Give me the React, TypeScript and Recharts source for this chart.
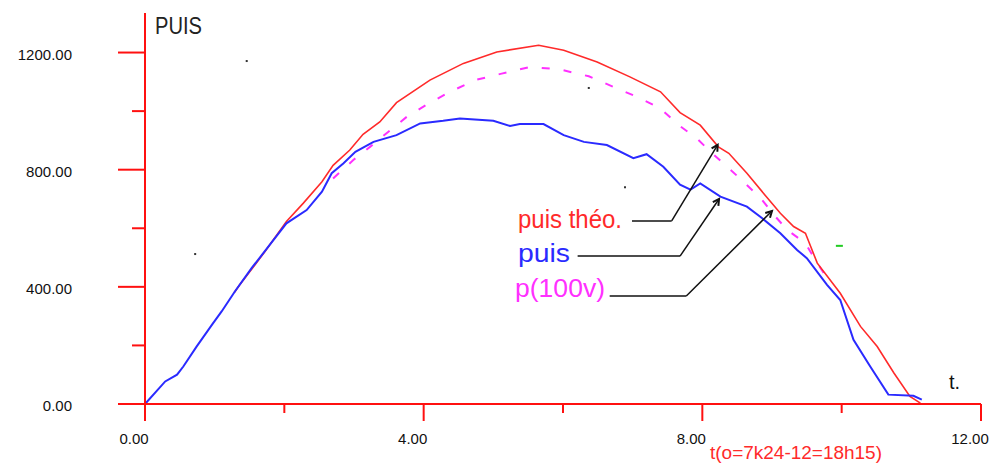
import React from "react";
import { ComposedChart, Line, Scatter, XAxis, YAxis, ReferenceLine } from "recharts";

// t (h) / puissance (W)
const puisTheo = [
  { t: 1.28, p: 380 }, { t: 1.36, p: 407 }, { t: 1.58, p: 475 }, { t: 1.72, p: 520 },
  { t: 2.03, p: 623 }, { t: 2.27, p: 685 }, { t: 2.54, p: 759 }, { t: 2.7, p: 815 },
  { t: 2.94, p: 867 }, { t: 3.13, p: 921 }, { t: 3.37, p: 963 }, { t: 3.61, p: 1029 },
  { t: 4.09, p: 1106 }, { t: 4.57, p: 1163 }, { t: 5.05, p: 1202 }, { t: 5.65, p: 1225 },
  { t: 6.01, p: 1208 }, { t: 6.49, p: 1168 }, { t: 6.96, p: 1117 }, { t: 7.4, p: 1066 },
  { t: 7.68, p: 995 }, { t: 7.97, p: 952 }, { t: 8.23, p: 878 }, { t: 8.38, p: 856 },
  { t: 8.64, p: 788 }, { t: 8.88, p: 719 }, { t: 9.12, p: 651 }, { t: 9.31, p: 606 },
  { t: 9.48, p: 583 }, { t: 9.65, p: 481 }, { t: 9.98, p: 378 }, { t: 10.27, p: 265 },
  { t: 10.51, p: 196 }, { t: 10.75, p: 106 }, { t: 10.98, p: 26 }, { t: 11.13, p: 3 },
];

const puis = [
  { t: 0, p: 0 }, { t: 0.29, p: 77 }, { t: 0.46, p: 100 }, { t: 0.55, p: 128 },
  { t: 0.74, p: 196 }, { t: 0.96, p: 270 }, { t: 1.1, p: 316 }, { t: 1.29, p: 384 },
  { t: 1.53, p: 464 }, { t: 1.79, p: 543 }, { t: 2.03, p: 617 }, { t: 2.32, p: 662 },
  { t: 2.54, p: 725 }, { t: 2.68, p: 788 }, { t: 2.85, p: 822 }, { t: 3.02, p: 861 },
  { t: 3.28, p: 895 }, { t: 3.61, p: 918 }, { t: 3.95, p: 958 }, { t: 4.28, p: 967 },
  { t: 4.52, p: 975 }, { t: 5.0, p: 967 }, { t: 5.24, p: 949 }, { t: 5.38, p: 956 },
  { t: 5.72, p: 956 }, { t: 6.01, p: 918 }, { t: 6.3, p: 895 }, { t: 6.63, p: 884 },
  { t: 7.01, p: 839 }, { t: 7.2, p: 853 }, { t: 7.44, p: 810 }, { t: 7.68, p: 749 },
  { t: 7.83, p: 732 }, { t: 7.97, p: 753 }, { t: 8.26, p: 708 }, { t: 8.64, p: 674 },
  { t: 8.86, p: 634 }, { t: 9.12, p: 583 }, { t: 9.36, p: 526 }, { t: 9.5, p: 498 },
  { t: 9.79, p: 407 }, { t: 9.98, p: 355 }, { t: 10.17, p: 219 }, { t: 10.41, p: 128 },
  { t: 10.67, p: 32 }, { t: 11.03, p: 28 }, { t: 11.15, p: 15 },
];

const p100v = [
  { t: 2.7, p: 770 }, { t: 2.99, p: 833 }, { t: 3.23, p: 878 }, { t: 3.49, p: 929 },
  { t: 3.76, p: 981 }, { t: 4.07, p: 1026 }, { t: 4.38, p: 1066 }, { t: 4.74, p: 1106 },
  { t: 5.12, p: 1128 }, { t: 5.53, p: 1151 }, { t: 5.96, p: 1142 }, { t: 6.37, p: 1119 },
  { t: 6.72, p: 1083 }, { t: 7.06, p: 1049 }, { t: 7.4, p: 1009 }, { t: 7.66, p: 952 },
  { t: 7.92, p: 907 }, { t: 8.14, p: 856 }, { t: 8.38, p: 805 }, { t: 8.59, p: 759 },
  { t: 8.84, p: 702 }, { t: 9.03, p: 645 }, { t: 9.22, p: 594 }, { t: 9.48, p: 549 },
  { t: 9.62, p: 492 }, { t: 9.79, p: 430 },
];

// stray pixels left on the original screen
const strayDots = [
  { t: 1.46, p: 1171 }, { t: 0.72, p: 512 }, { t: 6.37, p: 1079 }, { t: 6.89, p: 740 },
];
const greenMark = [{ t: 9.96, p: 540 }];

const xTicks = [0, 2, 4, 6, 8, 10, 12];
const xMajor = [0, 4, 8, 12];
const yTicks = [0, 200, 400, 600, 800, 1000, 1200];
const yMajor = [0, 400, 800, 1200];

// annotation arrows: label end -> knee -> tip on the curve
const arrows = [
  { from: { t: 6.99, p: 625 }, knee: { t: 7.56, p: 625 }, tip: { t: 8.22, p: 885 } },
  { from: { t: 6.21, p: 505 }, knee: { t: 7.68, p: 505 }, tip: { t: 8.24, p: 700 } },
  { from: { t: 6.67, p: 369 }, knee: { t: 7.77, p: 369 }, tip: { t: 9.0, p: 659 } },
];

const AXIS = "#ff1010";
const RED = "#ff2a2a";
const BLUE = "#2a2aff";
const MAGENTA = "#ff30ff";
const FONT = "'Liberation Sans', Arial, sans-serif";

const XTick = (props: any) => {
  const { x, y, payload } = props;
  const major = xMajor.includes(payload.value);
  return (
    <g>
      <line x1={x} y1={y} x2={x} y2={y + (major ? 17 : 9)} stroke={AXIS} strokeWidth={2} />
      {major && (
        <text x={x - 11} y={y + 40} textAnchor="middle" fontSize={15} fill="#111" fontFamily={FONT}>
          {payload.value.toFixed(2)}
        </text>
      )}
    </g>
  );
};

const YTick = (props: any) => {
  const { x, y, payload } = props;
  const major = yMajor.includes(payload.value);
  return (
    <g>
      <line x1={x - (major ? 27 : 13)} y1={y} x2={x} y2={y} stroke={AXIS} strokeWidth={2} />
      {major && (
        <text x={x - 73} y={y + 7} textAnchor="end" fontSize={15} fill="#111" fontFamily={FONT}>
          {payload.value.toFixed(2)}
        </text>
      )}
    </g>
  );
};

const ArrowShape = (props: any) => {
  const { x1, y1, x2, y2 } = props;
  const a = Math.atan2(y2 - y1, x2 - x1);
  const h = 7;
  const s = 0.5;
  const pts = `${x2 - h * Math.cos(a - s)},${y2 - h * Math.sin(a - s)} ${x2},${y2} ${x2 - h * Math.cos(a + s)},${y2 - h * Math.sin(a + s)}`;
  return (
    <g>
      <line x1={x1} y1={y1} x2={x2} y2={y2} stroke="#111" strokeWidth={1.5} />
      <polyline points={pts} fill="none" stroke="#111" strokeWidth={2} />
    </g>
  );
};

export default function App() {
  return (
    <div style={{ position: "absolute", left: 0, top: 0, width: 990, height: 464, background: "#fff" }}>
      <ComposedChart width={990} height={464} margin={{ top: 13, right: 9, bottom: 59, left: 144 }}>
        <XAxis
          type="number"
          dataKey="t"
          domain={[0, 12]}
          ticks={xTicks}
          interval={0}
          height={1}
          tickSize={0}
          tickMargin={0}
          axisLine={{ stroke: AXIS, strokeWidth: 2 }}
          tick={<XTick />}
        />
        <YAxis
          type="number"
          dataKey="p"
          domain={[0, 1335]}
          ticks={yTicks}
          interval={0}
          width={1}
          tickSize={0}
          tickMargin={0}
          axisLine={{ stroke: AXIS, strokeWidth: 2 }}
          tick={<YTick />}
        />
        <Line data={p100v} dataKey="p" type="linear" stroke={MAGENTA} strokeWidth={2}
          strokeDasharray="8 14" dot={false} isAnimationActive={false} />
        <Line data={puisTheo} dataKey="p" type="linear" stroke={RED} strokeWidth={1.6}
          dot={false} isAnimationActive={false} />
        <Line data={puis} dataKey="p" type="linear" stroke={BLUE} strokeWidth={2}
          dot={false} isAnimationActive={false} />
        <Scatter data={strayDots} dataKey="p" isAnimationActive={false}
          shape={(p: any) => <rect x={p.cx - 1} y={p.cy - 1} width={2} height={2} fill="#333" />} />
        <Scatter data={greenMark} dataKey="p" isAnimationActive={false}
          shape={(p: any) => <rect x={p.cx - 3} y={p.cy - 1} width={7} height={2} fill="#22cc22" />} />
        {arrows.map((a, i) => (
          <ReferenceLine key={"h" + i} segment={[{ x: a.from.t, y: a.from.p }, { x: a.knee.t, y: a.knee.p }]}
            stroke="#111" strokeWidth={1.5} ifOverflow="visible" />
        ))}
        {arrows.map((a, i) => (
          <ReferenceLine key={"d" + i} segment={[{ x: a.knee.t, y: a.knee.p }, { x: a.tip.t, y: a.tip.p }]}
            ifOverflow="visible" shape={<ArrowShape />} />
        ))}
        <text x={155} y={34} fontSize={23} fill="#222" fontFamily={FONT} textLength={47} lengthAdjust="spacingAndGlyphs">PUIS</text>
        <text x={949} y={389} fontSize={20} fill="#111" fontFamily={FONT}>t.</text>
        <text x={518} y={228} fontSize={26} fill={RED} fontFamily={FONT} textLength={104} lengthAdjust="spacingAndGlyphs">puis théo.</text>
        <text x={518} y={262} fontSize={26} fill={BLUE} fontFamily={FONT} textLength={52} lengthAdjust="spacingAndGlyphs">puis</text>
        <text x={515} y={297} fontSize={26} fill={MAGENTA} fontFamily={FONT} textLength={90} lengthAdjust="spacingAndGlyphs">p(100v)</text>
        <text x={710} y={459} fontSize={18} fill={RED} fontFamily={FONT} textLength={172} lengthAdjust="spacingAndGlyphs">t(o=7k24-12=18h15)</text>
      </ComposedChart>
    </div>
  );
}
